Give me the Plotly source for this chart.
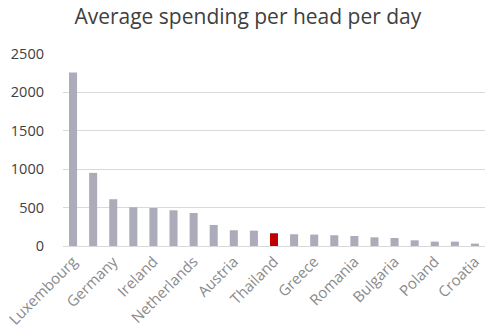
import plotly.graph_objects as go

countries = ["Luxembourg", "Denmark", "Germany", "Belgium", "Ireland", "France",
             "Netherlands", "Sweden", "Austria", "Finland", "Thailand", "Italy",
             "Greece", "Spain", "Romania", "Portugal", "Bulgaria", "Czechia",
             "Poland", "Hungary", "Croatia"]
values = [2260, 952, 609, 505, 495, 465, 430, 274, 205, 200, 166, 153, 149, 140,
          130, 113, 104, 74, 57, 57, 31]
highlight = "Thailand"
shown_labels = countries[::2]
y_ticks = [0, 500, 1000, 1500, 2000, 2500]

colors = ["#c00000" if c == highlight else "#acabb9" for c in countries]

fig = go.Figure(go.Bar(x=countries, y=values, marker=dict(color=colors, line=dict(width=0)),
                       hoverinfo="x+y"))

fig.update_layout(
    width=486, height=335,
    margin=dict(l=63, r=1, t=54, b=89),
    paper_bgcolor="white", plot_bgcolor="white",
    bargap=0.6,
    showlegend=False,
    font=dict(family="Open Sans", color="#595959"),
    title=dict(text="Average spending per head per day", x=0.51, xanchor="center",
               y=0.95, yanchor="middle", font=dict(size=21, color="#404040")),
    xaxis=dict(tickmode="array", tickvals=shown_labels, ticktext=shown_labels,
               tickangle=-45, tickfont=dict(size=15, color="#8a8a8a"),
               showgrid=False, showline=True, linecolor="#d9d9d9", linewidth=1,
               ticks="", zeroline=False),
    yaxis=dict(range=[0, 2500], tickvals=y_ticks, tickfont=dict(size=14.5, color="#404040"),
               showgrid=True, gridcolor="#d9d9d9", gridwidth=1, zeroline=False,
               ticks="", ticklabelstandoff=18, showline=False),
)

fig.write_html("out.html")
